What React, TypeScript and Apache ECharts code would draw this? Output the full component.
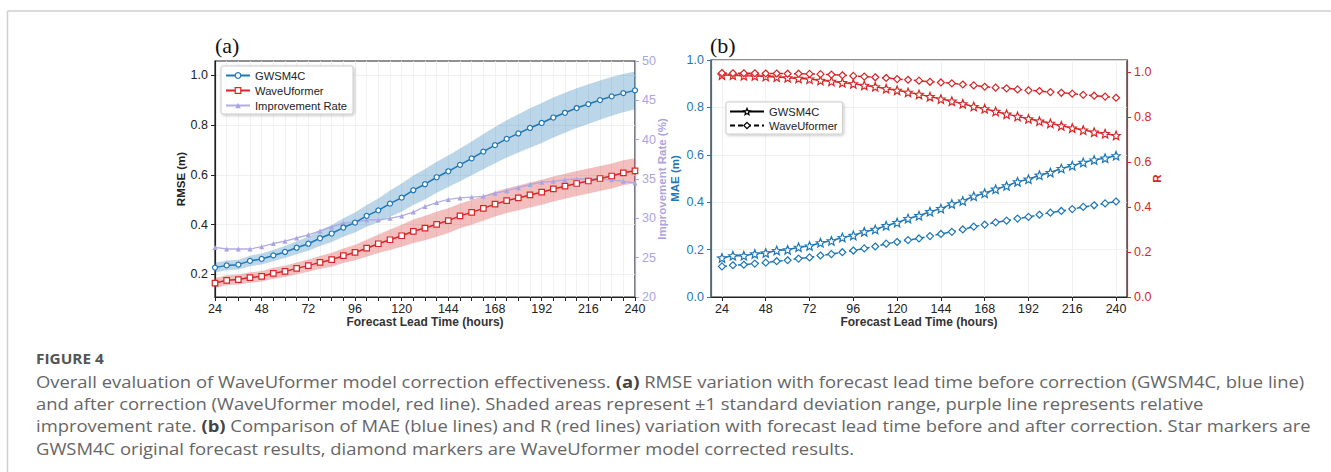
import React, { useEffect, useRef } from "react";
import * as echarts from "echarts";

const hours = [24, 30, 36, 42, 48, 54, 60, 66, 72, 78, 84, 90, 96, 102, 108, 114, 120, 126, 132, 138, 144, 150, 156, 162, 168, 174, 180, 186, 192, 198, 204, 210, 216, 222, 228, 234, 240];
const majorHours = [24, 48, 72, 96, 120, 144, 168, 192, 216, 240];

const rmseGWSM = [0.227, 0.236, 0.239, 0.254, 0.262, 0.276, 0.290, 0.307, 0.323, 0.345, 0.364, 0.388, 0.408, 0.435, 0.457, 0.484, 0.508, 0.538, 0.562, 0.590, 0.614, 0.640, 0.666, 0.693, 0.719, 0.744, 0.766, 0.788, 0.808, 0.830, 0.849, 0.868, 0.884, 0.900, 0.915, 0.928, 0.939];
const rmseGWSMStd = [0.020, 0.020, 0.020, 0.021, 0.022, 0.023, 0.024, 0.026, 0.028, 0.031, 0.034, 0.037, 0.040, 0.044, 0.048, 0.053, 0.057, 0.059, 0.061, 0.062, 0.063, 0.066, 0.068, 0.071, 0.073, 0.075, 0.077, 0.079, 0.080, 0.080, 0.080, 0.080, 0.080, 0.079, 0.078, 0.077, 0.076];
const rmseWave = [0.165, 0.176, 0.179, 0.187, 0.192, 0.204, 0.212, 0.224, 0.235, 0.248, 0.259, 0.275, 0.288, 0.305, 0.323, 0.339, 0.355, 0.373, 0.386, 0.401, 0.416, 0.435, 0.449, 0.465, 0.482, 0.496, 0.507, 0.519, 0.530, 0.543, 0.554, 0.565, 0.575, 0.585, 0.595, 0.608, 0.616];
const rmseWaveStd = [0.020, 0.020, 0.020, 0.021, 0.021, 0.022, 0.023, 0.024, 0.025, 0.026, 0.028, 0.029, 0.031, 0.034, 0.037, 0.041, 0.044, 0.047, 0.049, 0.050, 0.050, 0.050, 0.050, 0.050, 0.050, 0.050, 0.050, 0.050, 0.050, 0.050, 0.050, 0.050, 0.050, 0.050, 0.050, 0.050, 0.050];
const improvement = [26.3, 26.1, 26.1, 26.1, 26.4, 26.8, 27.1, 27.5, 27.9, 28.4, 28.9, 29.4, 29.5, 29.8, 29.8, 30.0, 30.3, 30.8, 31.5, 32.0, 32.4, 32.6, 32.7, 32.8, 33.2, 33.5, 33.9, 34.3, 34.6, 34.7, 34.9, 35.0, 35.0, 35.0, 34.9, 34.7, 34.5];

const maeGWSM = [0.165, 0.174, 0.174, 0.182, 0.186, 0.196, 0.199, 0.210, 0.215, 0.229, 0.237, 0.251, 0.260, 0.275, 0.285, 0.301, 0.314, 0.331, 0.343, 0.360, 0.373, 0.393, 0.405, 0.425, 0.438, 0.455, 0.469, 0.486, 0.497, 0.514, 0.525, 0.542, 0.554, 0.568, 0.578, 0.586, 0.596];
const maeWave = [0.129, 0.134, 0.136, 0.141, 0.145, 0.151, 0.155, 0.162, 0.167, 0.175, 0.181, 0.189, 0.196, 0.205, 0.213, 0.225, 0.232, 0.240, 0.247, 0.257, 0.266, 0.275, 0.285, 0.297, 0.305, 0.315, 0.322, 0.331, 0.338, 0.347, 0.356, 0.363, 0.371, 0.380, 0.387, 0.395, 0.403];
const rGWSM = [0.988, 0.987, 0.985, 0.984, 0.982, 0.979, 0.976, 0.973, 0.970, 0.964, 0.960, 0.954, 0.949, 0.942, 0.936, 0.927, 0.920, 0.911, 0.902, 0.892, 0.881, 0.872, 0.860, 0.848, 0.838, 0.826, 0.814, 0.804, 0.793, 0.783, 0.773, 0.762, 0.752, 0.743, 0.734, 0.727, 0.719];
const rWave = [0.997, 0.996, 0.996, 0.996, 0.995, 0.995, 0.994, 0.994, 0.993, 0.992, 0.990, 0.987, 0.984, 0.981, 0.978, 0.975, 0.970, 0.967, 0.963, 0.958, 0.955, 0.951, 0.946, 0.942, 0.936, 0.932, 0.929, 0.924, 0.920, 0.917, 0.912, 0.909, 0.905, 0.900, 0.896, 0.892, 0.887];

const rmseTicks = [0.2, 0.4, 0.6, 0.8, 1.0];
const rTicks = [0.0, 0.2, 0.4, 0.6, 0.8, 1.0];

const captionLines = [
  "Overall evaluation of WaveUformer model correction effectiveness. {b|(a)} RMSE variation with forecast lead time before correction (GWSM4C, blue line)",
  "and after correction (WaveUformer model, red line). Shaded areas represent ±1 standard deviation range, purple line represents relative",
  "improvement rate. {b|(b)} Comparison of MAE (blue lines) and R (red lines) variation with forecast lead time before and after correction. Star markers are",
  "GWSM4C original forecast results, diamond markers are WaveUformer model corrected results.",
];

const BLUE = "#1f77b4";
const RED = "#d62728";
const PURPLE = "#aba4e2";
const INK = "#222";
const FONT = "'Liberation Sans', Arial, sans-serif";
const CAP_FONT = "'Open Sans', sans-serif";
const STAR = "path://M12,1.5 L14.9,8.6 L22.5,9.2 L16.7,14.1 L18.5,21.6 L12,17.5 L5.5,21.6 L7.3,14.1 L1.5,9.2 L9.1,8.6 Z";

const pairs = (ys: number[]) => hours.map((h, i) => [h, ys[i]]);

function bandSeries(mean: number[], std: number[], fill: string) {
  const rows = hours.map((h, i) => [h, mean[i] - std[i], mean[i] + std[i]]);
  return {
    type: "custom", xAxisIndex: 0, yAxisIndex: 0, data: rows, silent: true, z: 1,
    encode: { x: 0, y: [1, 2] },
    renderItem: (params: any, api: any) => {
      if (params.dataIndex !== 0) return null;
      const pts: number[][] = [];
      for (let i = 0; i < rows.length; i++) pts.push(api.coord([rows[i][0], rows[i][2]]));
      for (let i = rows.length - 1; i >= 0; i--) pts.push(api.coord([rows[i][0], rows[i][1]]));
      return { type: "polygon", shape: { points: pts }, style: { fill } };
    },
  };
}

export default function App() {
  const ref = useRef<HTMLDivElement>(null);
  useEffect(() => {
    if (!ref.current) return;
    const chart = echarts.init(ref.current, null, { renderer: "svg" });

    const label = (color: string) => ({ color, fontSize: 12.5, fontFamily: FONT });
    const grid = { show: true, borderColor: INK, borderWidth: 1.2, backgroundColor: "transparent" };
    const openMarker = (color: string) => ({ color: "#fff", borderColor: color, borderWidth: 1.2 });
    const legendBox = {
      orient: "vertical", backgroundColor: "#fff", borderColor: "#ccc", borderWidth: 1, borderRadius: 2,
      shadowColor: "rgba(0,0,0,0.25)", shadowBlur: 3, shadowOffsetX: 1, shadowOffsetY: 1,
    };
    const xName = {
      name: "Forecast Lead Time (hours)", nameLocation: "middle", nameGap: 19, nameMoveOverlap: false,
      nameTextStyle: { fontWeight: "bold", fontSize: 12, color: "#333", fontFamily: FONT },
    };

    const option: any = {
      animation: false,
      textStyle: { fontFamily: FONT },
      grid: [
        { ...grid, left: 215, top: 61, width: 420, height: 236 },
        { ...grid, left: 711, top: 60, width: 416, height: 237 },
      ],
      legend: [
        {
          ...legendBox, left: 221, top: 66, itemGap: 4, itemWidth: 24, itemHeight: 7,
          padding: [4, 6, 3, 4],
          textStyle: { fontSize: 11.2, color: INK, fontFamily: FONT, lineHeight: 11 },
          data: [
            { name: "GWSM4C", itemStyle: openMarker(BLUE) },
            { name: "WaveUformer", itemStyle: openMarker(RED) },
            { name: "Improvement Rate" },
          ],
        },
        {
          ...legendBox, left: 726, top: 102, itemGap: 3, itemWidth: 34, itemHeight: 8,
          padding: [4, 5, 3, 3],
          textStyle: { fontSize: 11.2, color: INK, fontFamily: FONT, lineHeight: 11 },
          itemStyle: { color: "#fff", borderColor: "#000", borderWidth: 1.2 },
          formatter: (n: string) => n.replace(" (b)", ""),
          data: ["GWSM4C (b)", "WaveUformer (b)"],
        },
      ],
      xAxis: [
        {
          type: "value", gridIndex: 0, min: 24, max: 240, interval: 6,
          axisLine: { onZero: false, lineStyle: { color: INK, width: 1.2 } },
          axisTick: { length: 4, lineStyle: { color: INK } },
          axisLabel: { ...label(INK), margin: 5, formatter: (v: number) => (v % 24 === 0 ? String(v) : "") },
          splitLine: { show: true, lineStyle: { color: "#eeeeee", width: 0.8 } },
          ...xName,
        },
        {
          type: "value", gridIndex: 1, min: 18, max: 246,
          axisLine: { onZero: false, lineStyle: { color: INK, width: 1.2 } },
          axisTick: { length: 4, lineStyle: { color: INK }, customValues: majorHours },
          axisLabel: { ...label(INK), margin: 5, customValues: majorHours },
          splitLine: { show: true, lineStyle: { color: "#eeeeee", width: 0.8 } },
          ...xName,
        },
      ],
      yAxis: [
        {
          type: "value", gridIndex: 0, position: "left", min: 0.109, max: 1.057,
          axisLine: { show: true, onZero: false, lineStyle: { color: INK, width: 1.2 } },
          axisTick: { show: true, length: 4, lineStyle: { color: INK }, customValues: rmseTicks },
          axisLabel: { ...label(INK), margin: 7, customValues: rmseTicks, formatter: (v: number) => v.toFixed(1) },
          splitLine: { show: true, lineStyle: { color: "#eeeeee", width: 0.8 } },
          name: "RMSE (m)", nameLocation: "middle", nameGap: 28, nameRotate: 90, nameMoveOverlap: false,
          nameTextStyle: { fontWeight: "bold", fontSize: 11.5, color: INK, fontFamily: FONT },
        },
        {
          type: "value", gridIndex: 0, position: "right", min: 20, max: 50, interval: 5,
          axisLine: { show: true, onZero: false, lineStyle: { color: PURPLE, width: 1.2 } },
          axisTick: { show: true, length: 4, lineStyle: { color: PURPLE } },
          axisLabel: { ...label(PURPLE), margin: 7 },
          splitLine: { show: false },
          name: "Improvement Rate (%)", nameLocation: "middle", nameGap: 21, nameRotate: 90, nameMoveOverlap: false,
          nameTextStyle: { fontWeight: "bold", fontSize: 11.5, color: PURPLE, fontFamily: FONT },
        },
        {
          type: "value", gridIndex: 1, position: "left", min: 0, max: 1, interval: 0.2,
          axisLine: { show: true, onZero: false, lineStyle: { color: BLUE, width: 1.2 } },
          axisTick: { show: true, length: 4, lineStyle: { color: BLUE } },
          axisLabel: { ...label(BLUE), margin: 7, formatter: (v: number) => v.toFixed(1) },
          splitLine: { show: true, lineStyle: { color: "#eeeeee", width: 0.8 } },
          name: "MAE (m)", nameLocation: "middle", nameGap: 30, nameRotate: 90, nameMoveOverlap: false,
          nameTextStyle: { fontWeight: "bold", fontSize: 11.5, color: BLUE, fontFamily: FONT },
        },
        {
          type: "value", gridIndex: 1, position: "right", min: 0, max: 1.055,
          axisLine: { show: true, onZero: false, lineStyle: { color: RED, width: 1.2 } },
          axisTick: { show: true, length: 4, lineStyle: { color: RED }, customValues: rTicks },
          axisLabel: { ...label(RED), margin: 7, customValues: rTicks, formatter: (v: number) => v.toFixed(1) },
          splitLine: { show: false },
          name: "R", nameLocation: "middle", nameGap: 24, nameRotate: 90, nameMoveOverlap: false,
          nameTextStyle: { fontWeight: "bold", fontSize: 11.5, color: RED, fontFamily: FONT },
        },
      ],
      series: [
        bandSeries(rmseGWSM, rmseGWSMStd, "rgba(31,119,180,0.3)"),
        bandSeries(rmseWave, rmseWaveStd, "rgba(214,39,40,0.3)"),
        {
          name: "Improvement Rate", type: "line", xAxisIndex: 0, yAxisIndex: 1, data: pairs(improvement),
          symbol: "triangle", symbolSize: 5, showAllSymbol: true, color: PURPLE,
          itemStyle: { color: PURPLE }, lineStyle: { color: PURPLE, width: 1.3, opacity: 0.9 }, z: 3,
        },
        {
          name: "GWSM4C", type: "line", xAxisIndex: 0, yAxisIndex: 0, data: pairs(rmseGWSM),
          symbol: "circle", symbolSize: 5, showAllSymbol: true, color: BLUE,
          itemStyle: openMarker(BLUE), lineStyle: { color: BLUE, width: 1.5 }, z: 4,
        },
        {
          name: "WaveUformer", type: "line", xAxisIndex: 0, yAxisIndex: 0, data: pairs(rmseWave),
          symbol: "rect", symbolSize: 5.5, showAllSymbol: true, color: RED,
          itemStyle: openMarker(RED), lineStyle: { color: RED, width: 1.5 }, z: 4,
        },
        {
          name: "MAE GWSM4C", type: "line", xAxisIndex: 1, yAxisIndex: 2, data: pairs(maeGWSM),
          symbol: STAR, symbolSize: 8.5, showAllSymbol: true, color: BLUE,
          itemStyle: openMarker(BLUE), lineStyle: { color: BLUE, width: 1.5 }, z: 4,
        },
        {
          name: "MAE WaveUformer", type: "line", xAxisIndex: 1, yAxisIndex: 2, data: pairs(maeWave),
          symbol: "diamond", symbolSize: 7, showAllSymbol: true, color: BLUE,
          itemStyle: openMarker(BLUE), lineStyle: { color: BLUE, width: 1.5, type: [5, 3] }, z: 4,
        },
        {
          name: "R GWSM4C", type: "line", xAxisIndex: 1, yAxisIndex: 3, data: pairs(rGWSM),
          symbol: STAR, symbolSize: 8.5, showAllSymbol: true, color: RED,
          itemStyle: openMarker(RED), lineStyle: { color: RED, width: 1.5 }, z: 4,
        },
        {
          name: "R WaveUformer", type: "line", xAxisIndex: 1, yAxisIndex: 3, data: pairs(rWave),
          symbol: "diamond", symbolSize: 7, showAllSymbol: true, color: RED,
          itemStyle: openMarker(RED), lineStyle: { color: RED, width: 1.5, type: [5, 3] }, z: 4,
        },
        {
          name: "GWSM4C (b)", type: "line", xAxisIndex: 1, yAxisIndex: 2, data: [],
          symbol: STAR, symbolSize: 8.5, color: "#000",
          itemStyle: openMarker("#000"), lineStyle: { color: "#000", width: 1.5 },
        },
        {
          name: "WaveUformer (b)", type: "line", xAxisIndex: 1, yAxisIndex: 2, data: [],
          symbol: "diamond", symbolSize: 7, color: "#000",
          itemStyle: openMarker("#000"), lineStyle: { color: "#000", width: 1.5, type: [5, 3] },
        },
      ],
      graphic: [
        { type: "line", shape: { x1: 7.5, y1: 11, x2: 1331, y2: 11 }, style: { stroke: "#cfcfcf", lineWidth: 1.5 }, silent: true },
        { type: "line", shape: { x1: 7.5, y1: 11, x2: 7.5, y2: 472 }, style: { stroke: "#cfcfcf", lineWidth: 1.5 }, silent: true },
        { type: "text", x: 215, y: 45, style: { text: "(a)", fontFamily: "'Liberation Serif', 'Times New Roman', serif", fontSize: 22, fill: "#111", verticalAlign: "middle" } },
        { type: "text", x: 710, y: 45, style: { text: "(b)", fontFamily: "'Liberation Serif', 'Times New Roman', serif", fontSize: 22, fill: "#111", verticalAlign: "middle" } },
        { type: "text", x: 36, y: 358, scaleX: 1.1, style: { text: "FIGURE 4", fontFamily: CAP_FONT, fontSize: 14, fontWeight: "bold", fill: "#555", verticalAlign: "middle" } },
        ...captionLines.map((t, i) => ({
          type: "text", x: 36, y: 381 + i * 22.4, scaleX: 1.116,
          style: {
            text: t, fontFamily: CAP_FONT, fontSize: 16.5, fill: "#666", verticalAlign: "middle",
            rich: { b: { fontFamily: CAP_FONT, fontSize: 16.5, fontWeight: "bold", fill: "#444", verticalAlign: "middle" } },
          },
        })),
      ],
    };
    chart.setOption(option);
    return () => chart.dispose();
  }, []);
  return <div ref={ref} style={{ position: "absolute", left: 0, top: 0, width: 1331, height: 472, background: "#fff" }} />;
}
